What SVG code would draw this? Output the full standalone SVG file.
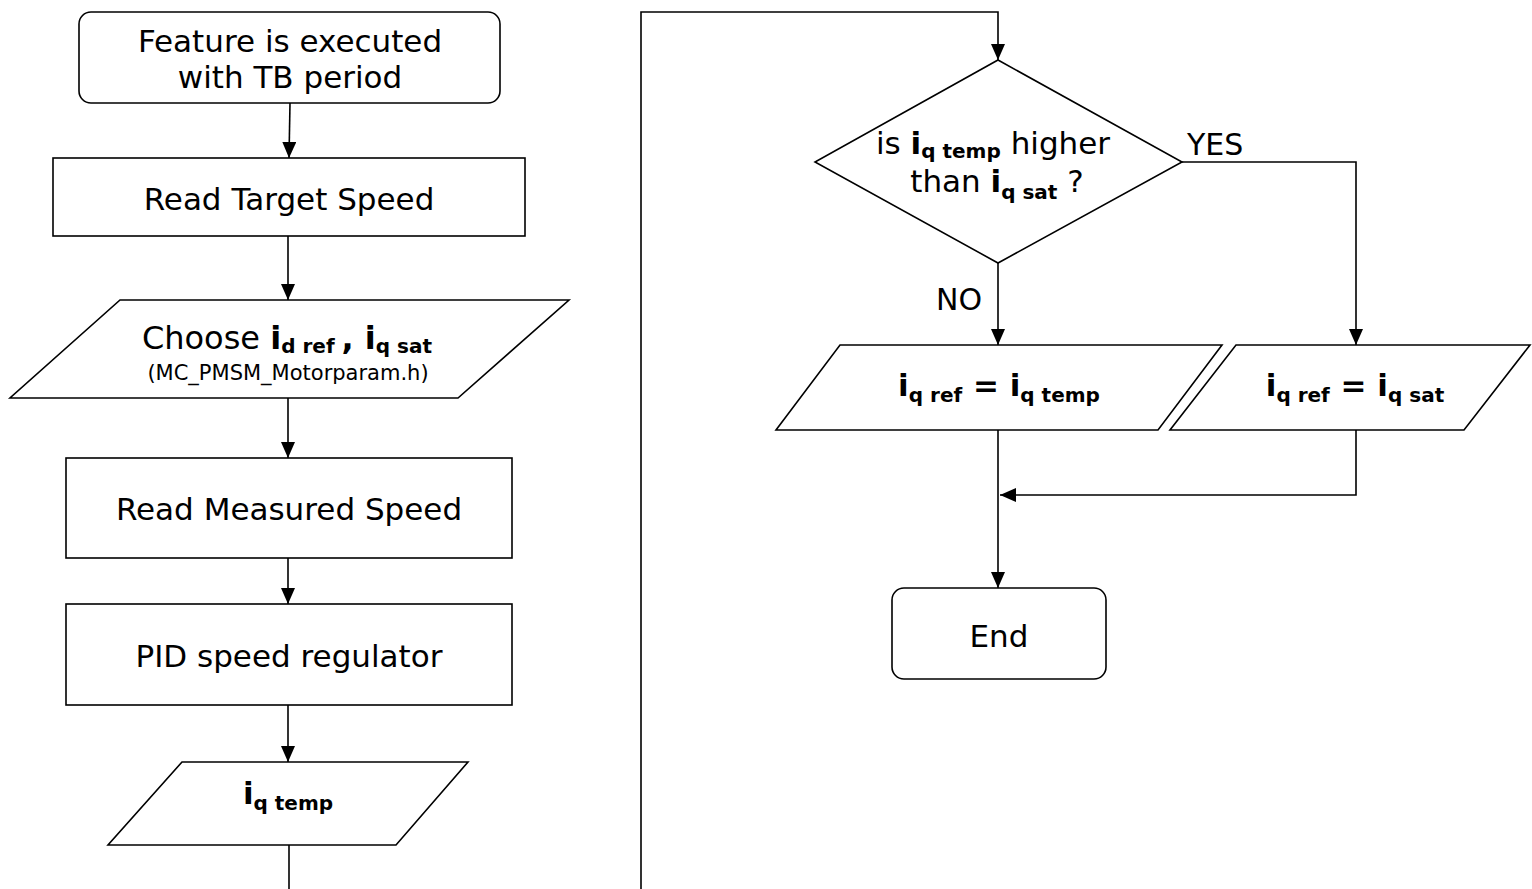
<svg xmlns="http://www.w3.org/2000/svg" width="1532" height="889" viewBox="0 0 1532 889">
<defs>
<marker id="arr" markerUnits="userSpaceOnUse" markerWidth="16" markerHeight="14" refX="16" refY="7" orient="auto">
<path d="M0,0 L16,7 L0,14 z" fill="#000"/>
</marker>
<style>
.shape{fill:#fff;stroke:#000;stroke-width:1.6}
.conn{fill:none;stroke:#000;stroke-width:1.6}
text{font-family:"DejaVu Sans","Verdana",sans-serif;fill:#000}
.t{font-size:31px;text-anchor:middle}
.b{font-weight:bold}
.sub{font-weight:bold;font-size:20px}
.lbl{font-size:30px}
.small{font-size:21px;text-anchor:middle}
</style>
</defs>
<rect width="1532" height="889" fill="#fff"/>
<g id="connectors">
<path class="conn" d="M290 103 L289 158" marker-end="url(#arr)"/>
<path class="conn" d="M288 236 V300" marker-end="url(#arr)"/>
<path class="conn" d="M288 398 V458" marker-end="url(#arr)"/>
<path class="conn" d="M288 558 V604" marker-end="url(#arr)"/>
<path class="conn" d="M288 705 V762" marker-end="url(#arr)"/>
<path class="conn" d="M289 845 V889"/>
<path class="conn" d="M641 889 V12 H998 V60" marker-end="url(#arr)"/>
<path class="conn" d="M998 263 V345" marker-end="url(#arr)"/>
<path class="conn" d="M1182 162 H1356 V345" marker-end="url(#arr)"/>
<path class="conn" d="M998 430 V588" marker-end="url(#arr)"/>
<path class="conn" d="M1356 430 V495 H1000" marker-end="url(#arr)"/>
<text class="lbl" x="1187" y="155">YES</text>
<text class="lbl" x="936" y="310">NO</text>
</g>
<g id="start">
<rect class="shape" x="79" y="12" width="421" height="91" rx="12"/>
<text class="t" x="290" y="52">Feature is executed</text>
<text class="t" x="290" y="88">with TB period</text>
</g>
<g id="readTarget">
<rect class="shape" x="53" y="158" width="472" height="78"/>
<text class="t" x="289" y="210">Read Target Speed</text>
</g>
<g id="choose">
<polygon class="shape" points="120,300 569,300 458,398 10,398"/>
<text class="t" x="287" y="349" style="font-size:32px">Choose <tspan class="b">i</tspan><tspan class="sub" dy="4">d ref </tspan><tspan class="b" dy="-4">, i</tspan><tspan class="sub" dy="4">q sat</tspan></text>
<text class="small" x="288" y="380">(MC_PMSM_Motorparam.h)</text>
</g>
<g id="readMeasured">
<rect class="shape" x="66" y="458" width="446" height="100"/>
<text class="t" x="289" y="520">Read Measured Speed</text>
</g>
<g id="pid">
<rect class="shape" x="66" y="604" width="446" height="101"/>
<text class="t" x="289" y="667">PID speed regulator</text>
</g>
<g id="iqtemp">
<polygon class="shape" points="182,762 468,762 396,845 108,845"/>
<text class="t" x="288" y="804"><tspan class="b">i</tspan><tspan class="sub" dy="6">q temp</tspan></text>
</g>
<g id="decision">
<polygon class="shape" points="998,60 1182,162 998,263 815,162"/>
<text class="t" x="993" y="154">is <tspan class="b">i</tspan><tspan class="sub" dy="4">q temp</tspan><tspan dy="-4"> higher</tspan></text>
<text class="t" x="997" y="192">than <tspan class="b">i</tspan><tspan class="sub" dy="7">q sat</tspan><tspan dy="-7"> ?</tspan></text>
</g>
<g id="assignTemp">
<polygon class="shape" points="840,345 1222,345 1158,430 776,430"/>
<text class="t b" x="999" y="396">i<tspan class="sub" dy="6">q ref</tspan><tspan dy="-6"> = i</tspan><tspan class="sub" dy="6">q temp</tspan></text>
</g>
<g id="assignSat">
<polygon class="shape" points="1236,345 1530,345 1464,430 1170,430"/>
<text class="t b" x="1355" y="396">i<tspan class="sub" dy="6">q ref</tspan><tspan dy="-6">  = i</tspan><tspan class="sub" dy="6">q sat</tspan></text>
</g>
<g id="end">
<rect class="shape" x="892" y="588" width="214" height="91" rx="12"/>
<text class="t" x="999" y="647">End</text>
</g>
</svg>
